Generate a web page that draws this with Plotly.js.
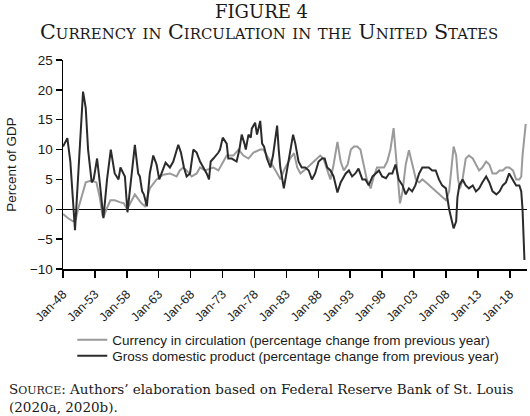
<!DOCTYPE html>
<html>
<head>
<meta charset="utf-8">
<script src="https://cdn.plot.ly/plotly-3.0.1.min.js"></script>
<style>html,body{margin:0;padding:0;background:#fff;}</style>
</head>
<body>
<div id="chart" style="width:530px;height:416px;"></div>
<script>
// Currency in circulation (% change from previous year)
const currencyYears = [1948.0,1948.8,1949.57,1950.0,1950.36,1950.88,1951.56,1952.45,1953.24,1953.76,1954.18,1954.39,1954.8,1955.43,1956.1,1956.9,1957.53,1958.05,1958.73,1959.26,1959.94,1960.3,1960.83,1961.6,1962.66,1963.7,1964.75,1965.8,1966.3,1966.85,1967.37,1968.16,1968.94,1969.47,1970.25,1971.04,1971.56,1972.35,1973.13,1973.65,1974.7,1975.5,1976.27,1977.06,1977.84,1978.9,1979.4,1979.96,1980.5,1981.0,1981.55,1982.1,1982.6,1983.1,1983.6,1984.2,1984.7,1985.2,1985.8,1986.3,1986.8,1987.3,1987.8,1988.3,1988.8,1989.4,1989.9,1990.4,1991.0,1991.5,1992.0,1992.6,1993.1,1993.6,1994.1,1994.6,1995.1,1995.6,1996.2,1996.7,1997.2,1997.8,1998.3,1998.8,1999.3,1999.8,2000.1,2000.5,2000.8,2001.2,2001.7,2002.2,2002.8,2003.3,2003.8,2004.3,2004.9,2005.4,2005.9,2006.4,2006.9,2007.5,2008.0,2008.5,2008.9,2009.2,2009.6,2009.9,2010.2,2010.6,2011.1,2011.6,2012.2,2012.7,2013.2,2013.7,2014.3,2014.8,2015.3,2015.9,2016.4,2016.9,2017.4,2017.9,2018.5,2019.0,2019.5,2019.8,2020.0,2020.5];
const currencyValues = [-0.8,-1.5,-2,-1.7,0,2,4.5,4.8,4.5,2,-1,-1.3,0,1.5,1.5,1.2,1,0,1.5,2.5,1.5,1,0.5,3.5,5,5.8,6,5.5,6.5,7,6.5,5.5,6,7,6.5,6.8,7,6.5,8,9,9,10,9,8.5,9.5,10,10,9,8,7,6,5,6.5,7.5,8.5,9.4,7,6,6.5,7,7.5,8,8.5,9,8.5,6.5,5,7.5,11.3,8,6.5,7.5,10,10.5,10.5,10,7.5,5,3.5,5.5,7,7,7,8,10,13.6,10,4,1,3,7.5,9.9,7,5,4.5,5,4.5,4,3.5,3,2.5,2,1.5,3,7,10.5,9,5,3.5,5,8.5,9,8.5,7.5,6.5,7,8,7.5,6,6,6.5,6.5,7,7,6.5,5,5,5.5,9,14.3];

// Gross domestic product (% change from previous year)
const gdpYears = [1948.0,1948.68,1949.15,1949.88,1951.14,1951.56,1951.93,1952.29,1952.5,1952.8,1953.34,1953.76,1954.33,1954.9,1955.49,1956.1,1956.7,1957.0,1957.4,1957.7,1958.1,1958.73,1959.26,1959.78,1960.04,1960.4,1960.67,1961.14,1961.6,1962.14,1962.66,1963.08,1963.6,1964.07,1964.75,1965.28,1966.06,1966.48,1966.95,1967.37,1967.9,1968.42,1968.94,1969.47,1969.99,1970.51,1970.88,1971.14,1971.56,1971.98,1972.35,1972.6,1973.03,1973.65,1973.9,1974.44,1975.2,1975.64,1976.0,1976.43,1976.64,1977.06,1977.42,1977.58,1978.1,1978.4,1978.9,1979.2,1979.5,1979.95,1980.5,1980.9,1981.3,1981.55,1981.8,1982.05,1982.6,1983.0,1983.6,1984.05,1984.4,1984.9,1985.4,1985.96,1986.5,1987.0,1987.5,1988.05,1988.6,1989.0,1989.4,1989.9,1990.4,1991.0,1991.5,1992.3,1992.8,1993.3,1993.8,1994.3,1994.9,1995.4,1995.9,1996.5,1997.0,1997.5,1998.0,1998.6,1999.1,1999.6,2000.1,2000.6,2001.2,2001.7,2002.2,2002.7,2003.2,2003.8,2004.3,2004.8,2005.3,2005.85,2006.4,2006.9,2007.4,2008.0,2008.5,2009.2,2009.6,2009.8,2010.1,2010.6,2011.1,2011.6,2012.2,2012.7,2013.2,2013.7,2014.3,2014.8,2015.3,2015.9,2016.4,2016.9,2017.4,2017.9,2018.5,2019.0,2019.5,2019.8,2020.0,2020.3];
const gdpValues = [10.5,11.9,8,-3.5,19.7,17,10,6.6,4.5,5,8.5,4.5,-1.5,5,10,6,5,7,6,5.5,-0.5,6,10.8,6,5.5,3,2.5,0.5,6,9,7.5,5,6.5,7.8,7,8,10.8,9.5,7,5.5,6,10,9.5,8,7,6,5,8,8.5,9,9.5,10,12,11,8.5,8.5,8,10,12.5,11,10,12.5,12,13.5,14.5,12.5,14.8,11,10.5,8.5,7,9,12,14,10,7,3.5,6,10,12.5,11,8,7,7,6.5,5,6,8,8.5,8.5,7,6.5,5.5,2.8,4.5,6,6.5,5.5,6,6.8,5,5,4,5.5,6,6.5,5.5,5.2,6,6,7.5,5,4,2.5,3.5,3,4,6,7,7,7,6.5,6.5,5,4,3.5,0,-3.2,-2,2,4,5,4,3.5,4,3,3.5,4.5,5.5,4.5,3,2.5,3,4,4.5,6,5,4,4,3,0,-8.5];

const tickYears = [1948,1953,1958,1963,1968,1973,1978,1983,1988,1993,1998,2003,2008,2013,2018];
const tickLabels = ["Jan-48","Jan-53","Jan-58","Jan-63","Jan-68","Jan-73","Jan-78","Jan-83","Jan-88","Jan-93","Jan-98","Jan-03","Jan-08","Jan-13","Jan-18"];
const yTicks = [-10,-5,0,5,10,15,20,25];

const sans = "Liberation Sans, Arial, sans-serif";
const serif = "DejaVu Serif, serif";
const legendFont = {family: sans, size: 13.5, color: '#1a1a1a'};

const traces = [
  {x: currencyYears, y: currencyValues, type: 'scatter', mode: 'lines',
   name: 'Currency in circulation (percentage change from previous year)',
   line: {color: '#9a9a9a', width: 2}, legend: 'legend'},
  {x: gdpYears, y: gdpValues, type: 'scatter', mode: 'lines',
   name: 'Gross domestic product (percentage change from previous year)',
   line: {color: '#2b2b2b', width: 2}, legend: 'legend2'}
];

const smallSize = 14.9;
function sc(word) {
  return word[0] + '<span style="font-size:' + smallSize + 'px">' + word.slice(1).toUpperCase() + '</span>';
}
const subtitle = ['Currency','in','Circulation','in','the','United','States'].map(function(w){
  if (w === 'in' || w === 'the') return '<span style="font-size:' + smallSize + 'px">' + w.toUpperCase() + '</span>';
  return sc(w);
}).join(' ');

const layout = {
  width: 530, height: 416,
  margin: {l: 63, r: 3, t: 60, b: 147},
  paper_bgcolor: '#fff', plot_bgcolor: '#fff',
  showlegend: true,
  legend: {x: 0.02, y: -0.265, xanchor: 'left', yanchor: 'top', font: legendFont,
           bgcolor: 'rgba(0,0,0,0)'},
  legend2: {x: 0.02, y: -0.342, xanchor: 'left', yanchor: 'top', font: legendFont,
           bgcolor: 'rgba(0,0,0,0)'},
  xaxis: {range: [1948, 2020.7], showgrid: false, zeroline: false,
          tickmode: 'array', tickvals: tickYears, ticktext: tickLabels,
          tickangle: -45, ticks: 'outside', ticklen: 7, tickwidth: 1.5, tickcolor: '#000',
          ticklabelstandoff: 4,
          showline: true, linecolor: '#000', linewidth: 2,
          tickfont: {family: sans, size: 12.5, color: '#1a1a1a'}},
  yaxis: {range: [-10, 25], showgrid: false, zeroline: true, zerolinecolor: '#000', zerolinewidth: 1,
          tickvals: yTicks, ticks: 'outside', ticklen: 6, tickcolor: '#000', tickwidth: 1.5,
          showline: true, linecolor: '#000', linewidth: 1.5,
          tickfont: {family: sans, size: 13.5, color: '#1a1a1a'},
          title: {text: 'Percent of GDP', font: {family: sans, size: 13.5, color: '#1a1a1a'}, standoff: 10}},
  annotations: [
    {text: 'FIGURE 4', xref: 'paper', yref: 'paper', x: 0.427, y: 1.23, xanchor: 'center', yanchor: 'middle',
     showarrow: false, font: {family: serif, size: 18, color: '#1a1a1a'}},
    {text: subtitle, xref: 'paper', yref: 'paper', x: 0.444, y: 1.133, xanchor: 'center', yanchor: 'middle',
     showarrow: false, font: {family: serif, size: 20.7, color: '#1a1a1a'}},
    {text: 'S<span style="font-size:11px">OURCE</span>: Authors\u2019 elaboration based on Federal Reserve Bank of St. Louis<br>(2020a, 2020b).',
     xref: 'paper', yref: 'paper', x: -0.121, y: -0.525, xanchor: 'left', yanchor: 'top', align: 'left',
     showarrow: false, font: {family: serif, size: 13.5, color: '#1a1a1a'}}
  ]
};

Plotly.newPlot('chart', traces, layout, {displayModeBar: false, staticPlot: true});
</script>
</body>
</html>
